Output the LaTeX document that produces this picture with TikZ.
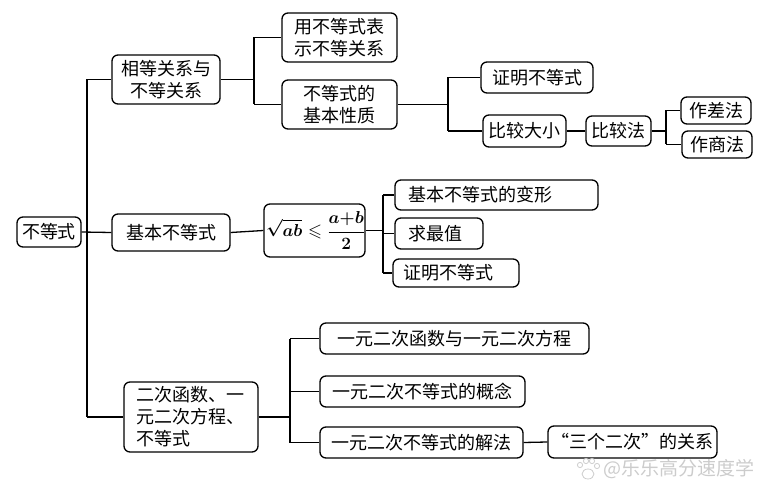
\documentclass[tikz,border=0pt]{standalone}
\usepackage{amssymb}
\usepackage{fontspec}
\newfontfamily\cjkf{Noto Sans CJK SC}
\usetikzlibrary{calc}
\newsavebox\fmlbox
\AtBeginDocument{\sbox\fmlbox{\fontsize{18}{22}\selectfont\boldmath$\displaystyle\sqrt{ab}\leqslant{a{+}b\over 2}$}}
\tikzset{
  box/.style={draw, line width=1.3pt, rounded corners=6pt, inner ysep=0pt,
    font=\cjkf\fontsize{18}{22}\selectfont, anchor=center},
  conn/.style={line width=1.3pt}
}
% centred box: name x1 y1 x2 y2 text
\newcommand\bx[6]{%
  \pgfmathsetmacro\bw{#4-#2-4}\pgfmathsetmacro\bh{#5-#3}%
  \node[box, align=center, inner xsep=2pt, text width=\bw pt, minimum height=\bh pt] (#1) at ({(#2+#4)/2},{(#3+#5)/2}) {#6};}
% left-aligned box: name x1 y1 x2 y2 pad text
\newcommand\bxl[7]{%
  \pgfmathsetmacro\bw{#4-#2-2*#6}\pgfmathsetmacro\bh{#5-#3}%
  \node[box, align=left, inner xsep=#6pt, text width=\bw pt, minimum height=\bh pt] (#1) at ({(#2+#4)/2},{(#3+#5)/2}) {#7};}
\begin{document}
\begin{tikzpicture}[x=1pt,y=-1pt]
\useasboundingbox (0,0) rectangle (780,500);
\bx{root}{17}{217}{81}{247}{不等式}
\bx{b1}{112}{55}{220}{104}{相等关系与\\不等关系}
\bx{b2}{112}{214}{230}{251}{基本不等式}
\bxl{b3}{124}{382}{258}{452}{12}{二次函数、一\\元二次方程、\\不等式}
\bx{c11}{282}{13}{397}{62}{用不等式表\\示不等关系}
\bx{c12}{282}{80}{397}{129}{不等式的\\基本性质}
\bx{d1}{481}{62}{593}{93}{证明不等式}
\bx{d2}{483}{115}{566}{147}{比较大小}
\bx{e}{586}{116}{651}{146}{比较法}
\bx{f1}{681}{97}{751}{124}{作差法}
\bx{f2}{682}{131}{752}{158}{作商法}
\bx{fm}{264}{204}{365}{257}{\usebox\fmlbox}
\bxl{g1}{395}{180}{598}{210}{13}{基本不等式的变形}
\bxl{g2}{395}{218}{483}{249}{13}{求最值}
\bxl{g3}{393}{259}{519}{287}{10}{证明不等式}
\bx{h1}{320}{323}{589}{354}{一元二次函数与一元二次方程}
\bx{h2}{320}{376}{525}{407}{一元二次不等式的概念}
\bx{h3}{320}{427}{523}{458}{一元二次不等式的解法}
\bx{i}{548}{426}{717}{458}{“三个二次”的关系}
% bus coordinates
\coordinate (tr) at (87,0);
\coordinate (s1) at (254,0);
\coordinate (s2) at (448,0);
\coordinate (s3) at (666,0);
\coordinate (s4) at (383,0);
\coordinate (s5) at (290,0);
\begin{scope}[conn]
\draw (root.east) -- (b2.west);
\draw (tr|-b1.west) -- (b1.west);
\draw (tr|-b3.west) -- (b3.west);
\draw (tr|-b1.west) -- (tr|-b3.west);
\draw (b1.east) -- (b1.east-|s1);
\draw (s1|-c11.west) -- (c11.west);
\draw (s1|-c12.west) -- (c12.west);
\draw (s1|-c11.west) -- (s1|-c12.west);
\draw (c12.east) -- (c12.east-|s2);
\draw (s2|-d1.west) -- (d1.west);
\draw (s2|-d2.west) -- (d2.west);
\draw (s2|-d1.west) -- (s2|-d2.west);
\draw (d2.east) -- (e.west);
\draw (e.east) -- (e.east-|s3);
\draw (s3|-f1.west) -- (f1.west);
\draw (s3|-f2.west) -- (f2.west);
\draw (s3|-f1.west) -- (s3|-f2.west);
\draw (b2.east) -- (fm.west);
\draw (fm.east) -- (fm.east-|s4);
\draw (s4|-g1.west) -- (g1.west);
\draw (s4|-g2.west) -- (g2.west);
\draw (s4|-g3.west) -- (g3.west);
\draw (s4|-g1.west) -- (s4|-g3.west);
\draw (b3.east) -- (b3.east-|s5);
\draw (s5|-h1.west) -- (h1.west);
\draw (s5|-h2.west) -- (h2.west);
\draw (s5|-h3.west) -- (h3.west);
\draw (s5|-h1.west) -- (s5|-h3.west);
\draw (h3.east) -- (i.west);
\end{scope}
% watermark
\begin{scope}[gray!40, line width=0.8pt]
\draw (588,474) ellipse (6pt and 5pt);
\draw (580,465) circle (2.6pt);
\draw (586,461) circle (2.6pt);
\draw (592,461) circle (2.6pt);
\draw (597,466) circle (2.6pt);
\end{scope}
\node[font=\cjkf\fontsize{19}{22}\selectfont, text=gray!40, anchor=west, inner sep=0pt] (wm) at (603,469) {@乐乐高分速度学};
\end{tikzpicture}
\end{document}
